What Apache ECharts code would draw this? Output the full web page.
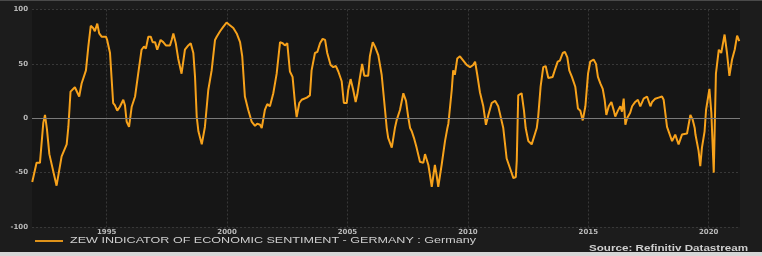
<!DOCTYPE html>
<html><head><meta charset="utf-8">
<script src="https://cdn.jsdelivr.net/npm/echarts@6/dist/echarts.min.js"></script>
<style>html,body{margin:0;padding:0;background:#1c1c1c;}#c{width:762px;height:256px;}</style>
</head><body><div id="c"></div>
<script>
// ZEW Indicator of Economic Sentiment - Germany
const dates = [1991.91,1992.09,1992.23,1992.37,1992.44,1992.52,1992.62,1992.67,1992.92,1993.13,1993.34,1993.41,1993.50,1993.68,1993.75,1993.86,1993.96,1994.14,1994.24,1994.34,1994.44,1994.51,1994.61,1994.69,1994.79,1994.97,1995.02,1995.14,1995.27,1995.34,1995.44,1995.55,1995.69,1995.76,1995.83,1995.93,1996.04,1996.18,1996.31,1996.45,1996.55,1996.63,1996.73,1996.83,1996.91,1997.01,1997.10,1997.24,1997.35,1997.46,1997.63,1997.70,1997.77,1997.87,1997.97,1998.11,1998.25,1998.39,1998.49,1998.60,1998.67,1998.74,1998.81,1998.95,1999.00,1999.08,1999.22,1999.36,1999.50,1999.57,1999.71,1999.84,1999.98,2000.09,2000.26,2000.40,2000.54,2000.63,2000.74,2000.88,2001.02,2001.16,2001.25,2001.37,2001.44,2001.57,2001.67,2001.78,2001.92,2002.06,2002.20,2002.31,2002.40,2002.50,2002.61,2002.72,2002.82,2002.89,2003.00,2003.10,2003.31,2003.44,2003.51,2003.65,2003.75,2003.86,2003.97,2004.07,2004.16,2004.30,2004.41,2004.52,2004.62,2004.76,2004.85,2004.97,2005.03,2005.13,2005.24,2005.34,2005.41,2005.52,2005.61,2005.70,2005.86,2005.93,2006.05,2006.16,2006.28,2006.42,2006.56,2006.63,2006.69,2006.84,2006.90,2006.97,2007.04,2007.18,2007.32,2007.43,2007.52,2007.60,2007.67,2007.76,2007.87,2008.01,2008.15,2008.22,2008.36,2008.50,2008.63,2008.70,2008.77,2008.91,2009.05,2009.15,2009.19,2009.33,2009.39,2009.46,2009.56,2009.67,2009.81,2009.95,2010.09,2010.22,2010.30,2010.39,2010.50,2010.64,2010.75,2010.85,2010.99,2011.13,2011.26,2011.36,2011.47,2011.54,2011.61,2011.75,2011.89,2011.99,2012.03,2012.09,2012.23,2012.33,2012.40,2012.51,2012.65,2012.79,2012.86,2012.92,2013.02,2013.13,2013.23,2013.34,2013.52,2013.62,2013.73,2013.82,2013.94,2014.03,2014.13,2014.21,2014.32,2014.46,2014.57,2014.67,2014.77,2014.88,2014.99,2015.08,2015.22,2015.32,2015.40,2015.50,2015.60,2015.68,2015.75,2015.85,2015.96,2016.06,2016.12,2016.23,2016.33,2016.40,2016.47,2016.54,2016.61,2016.74,2016.82,2016.95,2017.06,2017.16,2017.30,2017.44,2017.58,2017.65,2017.78,2017.92,2018.06,2018.13,2018.27,2018.34,2018.48,2018.61,2018.75,2018.89,2019.10,2019.24,2019.33,2019.42,2019.45,2019.58,2019.65,2019.72,2019.83,2019.89,2020.03,2020.11,2020.21,2020.30,2020.42,2020.52,2020.66,2020.76,2020.86,2020.97,2021.08,2021.18,2021.27];
const values = [-58.6,-41,-41,-4,3,-10,-33,-33,-62,-35,-24,-8,24.5,28.5,29,20,32,44,66,85,83,80,87,78,75,75,72,60,14,12,7,10.6,17,12,-3,-8,10.6,20,41,63,66,64,75,75,70,70,63,72,70,67,67,72,78,69,55,41,63,67,69,60,38,1.5,-12,-24,-24,-8,26,44,72,75,80,84,88,86,83,78,70,57,20,7.6,-3,-7,-5,-6,-9,7.6,13,11,23,41,70,69,67,69,43,38,14,1,14,17,19,21,44,60,61,69,73,72,60,49,47,48,43,34,14,14,26,36,26,15,22,38,50,39,39,57,70,65,58,40,7.6,-9,-18,-27,-26,-9,-2,7.6,23,16,1.5,-9,-12,-18,-27,-40,-41,-33,-43,-63,-43,-52,-63,-43,-21,-9,-5,26,44,40,55,57,53,49,47,49,52,40,24,11,-6,3,14,16,11,1.5,-9,-9,-37,-46,-55,-54,-39,21,23,7,-9,-21,-24,-14,-9,1.5,29,47,48,37,38,45,52,53,60,61,56,44,38,29,9,7,-2,11,41,52,54,50,38,32,27,17,3,11,15,7,1.5,7,11,6,18,-6,0,5,11,15,17,11,18,20,11,15,18,19,20,17,-8,-9,-21,-15,-24,-15,-14,3,-1,-9,-15,-30,-44,-27,-12,7.6,27,5,-50,41,63,60,77,60,39,54,63,76,71];
const xTickYears = [1995, 2000, 2005, 2010, 2015, 2020];
const yTicks = [-100, -50, 0, 50, 100];
const seriesName = 'ZEW INDICATOR OF ECONOMIC SENTIMENT - GERMANY : Germany';
const sourceText = 'Source: Refinitiv Datastream';

const points = dates.map((d, i) => [d, values[i]]);

function fitScale(str, font, targetW) {
  const ctx = document.createElement('canvas').getContext('2d');
  ctx.font = font;
  return targetW / ctx.measureText(str).width;
}
const legendFont = 'normal 8.5px "Liberation Sans"';
const sourceFont = 'bold 8.5px "Liberation Sans"';
const legendScale = fitScale(seriesName, legendFont, 406);
const sourceScale = fitScale(sourceText, sourceFont, 159);

const chart = echarts.init(document.getElementById('c'), null, {renderer: 'canvas'});
chart.setOption({
  backgroundColor: '#1c1c1c',
  animation: false,
  grid: {left: 32, right: 22, top: 9.5, bottom: 29, show: true, backgroundColor: '#161616', borderWidth: 0},
  xAxis: {
    type: 'value', min: 1991.9, max: 2021.3,
    axisLine: {show: false},
    axisTick: {show: false, customValues: xTickYears},
    axisLabel: {customValues: xTickYears, formatter: v => String(v), color: '#b8b8b8',
      fontFamily: 'DejaVu Sans', fontWeight: 'bold', fontSize: 7, margin: 2},
    splitLine: {show: true, lineStyle: {color: '#383838', type: [2, 2], width: 1}}
  },
  yAxis: {
    type: 'value', min: yTicks[0], max: yTicks[yTicks.length - 1], interval: 50,
    axisLine: {show: false}, axisTick: {show: false},
    axisLabel: {color: '#b8b8b8', fontFamily: 'DejaVu Sans', fontWeight: 'bold', fontSize: 7, margin: 4},
    splitLine: {show: true, lineStyle: {color: '#383838', type: [2, 2], width: 1}}
  },
  series: [{
    type: 'line', name: seriesName, data: points, showSymbol: false, smooth: false,
    lineStyle: {color: '#f7a21b', width: 2},
    markLine: {silent: true, symbol: 'none', label: {show: false},
      lineStyle: {color: '#7a7a7a', type: 'solid', width: 1}, data: [{yAxis: 0}]},
    z: 3
  }],
  graphic: [
    {type: 'rect', left: 0, top: 0, shape: {width: 762, height: 1}, style: {fill: '#4a4a4a'}, silent: true},
    {type: 'rect', left: 0, top: 252, shape: {width: 762, height: 4}, style: {fill: '#d6d6d6'}, silent: true},
    {type: 'line', shape: {x1: 35, y1: 241, x2: 63, y2: 241}, style: {stroke: '#f7a21b', lineWidth: 1.8}, silent: true},
    {type: 'text', x: 70, y: 241, scaleX: legendScale, silent: true,
      style: {text: seriesName, font: legendFont, fill: '#cfcfcf', verticalAlign: 'middle', textAlign: 'left'}},
    {type: 'text', x: 589, y: 248.5, scaleX: sourceScale, silent: true,
      style: {text: sourceText, font: sourceFont, fill: '#cfcfcf', verticalAlign: 'middle', textAlign: 'left'}}
  ]
});
</script></body></html>
